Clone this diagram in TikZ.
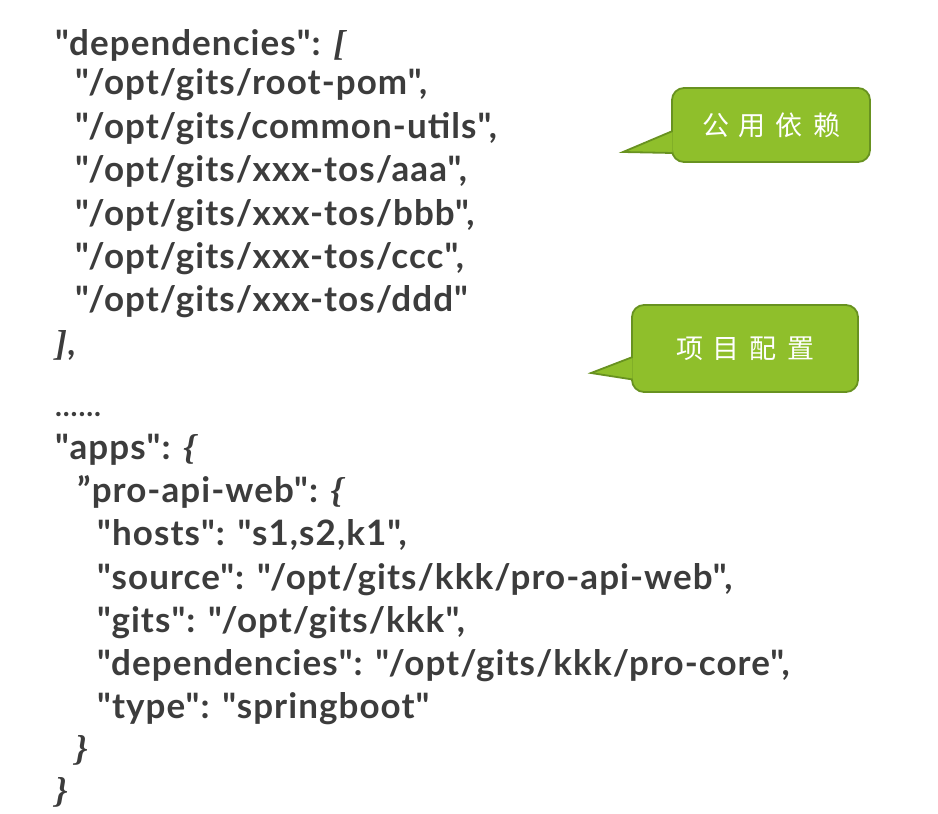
\documentclass[tikz,border=0pt]{standalone}
\usepackage{fontspec}
\setmainfont{Lato}[Ligatures=TeXOff, LetterSpace=3]
\newfontfamily\bracefont{Liberation Serif}
\newfontfamily\notefont{Noto Sans CJK SC}
\usetikzlibrary{positioning}
\definecolor{codegray}{RGB}{60,60,60}
\definecolor{notegreen}{RGB}{143,191,43}
\definecolor{noteborder}{RGB}{104,146,32}
\newcommand{\jbrk}[1]{{\bracefont\bfseries\itshape\fontsize{36}{40}\selectfont #1}}
\newcommand{\spread}[4]{#1\hspace{10pt}#2\hspace{10pt}#3\hspace{10pt}#4}
\begin{document}
\begin{tikzpicture}[x=1pt, y=-1pt,
code/.style={anchor=base west, inner sep=0pt, text=codegray, font=\bfseries\fontsize{35}{40}\selectfont},
note/.style={draw=noteborder, line width=1.8pt, fill=notegreen, rounded corners=12pt,
text=white, font=\notefont\fontsize{27}{30}\selectfont, inner sep=0pt},
tip/.style={fill=notegreen, draw=noteborder, line width=1.8pt}]
\useasboundingbox (0,0) rectangle (938,814);
\node (depkey) [code] at (55,55) {"dependencies": \jbrk{[}};
\node (root) [code] at (75,94) {"/opt/gits/root-pom",};
\node (common) [code] at (75,138) {"/opt/gits/common-utils",};
\node (aaa) [code] at (75,181.5) {"/opt/gits/xxx-tos/aaa",};
\node (bbb) [code] at (75,225) {"/opt/gits/xxx-tos/bbb",};
\node (ccc) [code] at (75,268.5) {"/opt/gits/xxx-tos/ccc",};
\node (ddd) [code] at (75,311.5) {"/opt/gits/xxx-tos/ddd"};
\node (depend) [code] at (55,355) {\jbrk{]},};
\node (dots) [code, font=\bfseries\fontsize{29}{30}\selectfont] at (55,416) {......};
\node (apps) [code] at (55,459) {"apps": \jbrk{\{}};
\node (proweb) [code] at (77,502) {”pro-api-web": \jbrk{\{}};
\node (hosts) [code] at (97,545.5) {"hosts": "s1,s2,k1",};
\node (source) [code] at (97,589) {"source": "/opt/gits/kkk/pro-api-web",};
\node (gits) [code] at (97,632) {"gits": "/opt/gits/kkk",};
\node (deps) [code] at (97,675) {"dependencies": "/opt/gits/kkk/pro-core",};
\node (type) [code] at (97,718) {"type": "springboot"};
\node (webend) [code] at (75,760) {\jbrk{\}}};
\node (appsend) [code] at (55,802) {\jbrk{\}}};
\node (depnote) [note, minimum width=198pt, minimum height=74pt] at (771,125) {\spread{公}{用}{依}{赖}};
\coordinate (deptip) at (623,152);
\filldraw[tip] ([xshift=1.5pt, yshift=-6pt]depnote.west) -- (deptip) -- ([xshift=1.5pt, yshift=-28pt]depnote.west);
\node (appnote) [note, minimum width=226pt, minimum height=87pt] at (745,348.5) {\spread{项}{目}{配}{置}};
\coordinate (apptip) at (591,373);
\filldraw[tip] ([xshift=1.5pt, yshift=-8.5pt]appnote.west) -- (apptip) -- ([xshift=1.5pt, yshift=-31pt]appnote.west);
\end{tikzpicture}
\end{document}
